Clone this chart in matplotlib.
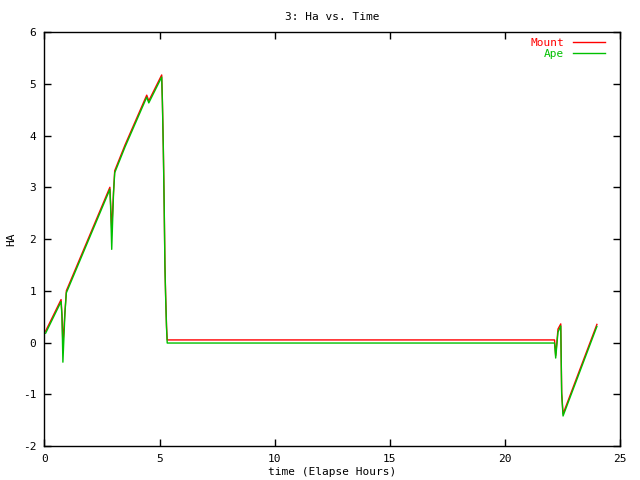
import matplotlib
matplotlib.use("Agg")
import matplotlib.pyplot as plt

plt.rcParams['font.family'] = ['DejaVu Sans Mono']
plt.rcParams['axes.unicode_minus'] = False

# elapsed hours
mount_t = [0.05, 0.72, 0.76, 0.80, 0.89, 0.95, 2.84, 2.87, 2.92, 3.00, 3.05,
           3.50, 4.44, 4.53, 5.09, 5.12, 5.16, 5.20, 5.23, 5.26, 5.30, 5.33,
           22.15, 22.20, 22.30, 22.42, 22.46, 22.52, 23.99]
mount_ha = [0.22, 0.83, 0.54, -0.05, 0.60, 1.00, 3.00, 2.70, 2.17, 2.92, 3.32,
            3.82, 4.78, 4.67, 5.17, 4.69, 3.80, 2.62, 1.52, 0.94, 0.32, 0.05,
            0.05, -0.25, 0.26, 0.36, -0.96, -1.38, 0.35]

ape_t = [0.05, 0.72, 0.76, 0.80, 0.89, 0.95, 2.84, 2.87, 2.92, 3.00, 3.05,
         3.50, 4.44, 4.53, 5.09, 5.12, 5.16, 5.20, 5.23, 5.26, 5.30, 5.33,
         22.15, 22.20, 22.30, 22.42, 22.46, 22.52, 23.99]
ape_ha = [0.18, 0.79, 0.50, -0.38, 0.58, 0.96, 2.96, 2.65, 1.80, 2.90, 3.28,
          3.78, 4.74, 4.63, 5.13, 4.65, 3.76, 2.58, 1.48, 0.90, 0.28, -0.01,
          -0.01, -0.30, 0.20, 0.32, -1.00, -1.42, 0.31]

fig = plt.figure(figsize=(6.4, 4.8), dpi=100)
ax = fig.add_axes([0.0695, 0.0708, 0.8995, 0.8625])

ax.plot(mount_t, mount_ha, color='#ff0000', lw=1, label='Mount')
ax.plot(ape_t, ape_ha, color='#00c000', lw=1, label='Ape')

ax.set_xlim(0, 25)
ax.set_ylim(-2, 6)
ax.set_xticks([0, 5, 10, 15, 20, 25])
ax.set_yticks([-2, -1, 0, 1, 2, 3, 4, 5, 6])
ax.tick_params(direction='in', length=5, width=1, top=True, right=True,
               labelsize=8, pad=6)
for s in ax.spines.values():
    s.set_linewidth(1)

ax.set_title('3: Ha vs. Time', fontsize=8, pad=9)
ax.set_xlabel('time (Elapse Hours)', fontsize=8, va='center')
ax.xaxis.set_label_coords(0.5, -0.063)
ax.set_ylabel('HA', fontsize=8, va='center')
ax.yaxis.set_label_coords(-0.058, 0.5)

leg = ax.legend(loc='upper right', bbox_to_anchor=(0.978, 0.99),
                frameon=False, markerfirst=False,
                fontsize=8, labelcolor='linecolor', handlelength=2.9,
                handletextpad=0.8, labelspacing=0.05,
                borderaxespad=0, borderpad=0.2)

fig.savefig('out.png', dpi=100)
